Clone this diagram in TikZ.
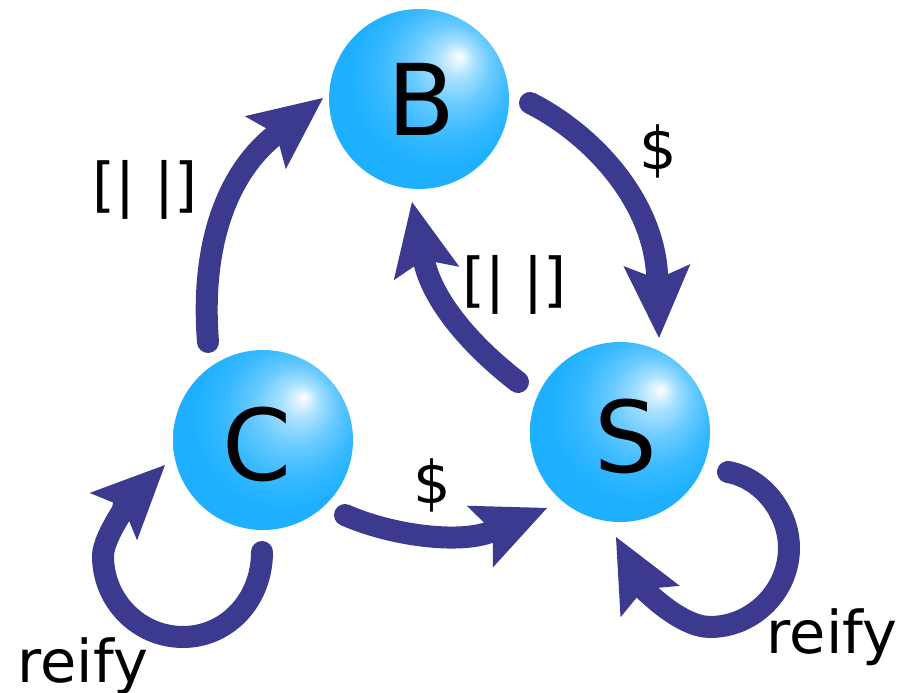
\documentclass[tikz,border=0pt]{standalone}
\usepackage{fontspec}
\setmainfont{DejaVu Sans}
\usetikzlibrary{arrows.meta}
\definecolor{arrowblue}{RGB}{59,58,143}
\definecolor{sphB}{RGB}{30,176,255}
\pgfdeclareradialshading{sphereshade}{\pgfpoint{11.4bp}{12bp}}{color(0bp)=(white); color(1.5bp)=(sphB!12!white); color(5bp)=(sphB!38!white); color(11bp)=(sphB!66!white); color(18bp)=(sphB!88!white); color(25bp)=(sphB); color(50bp)=(sphB)}
\begin{document}
\begin{tikzpicture}[x=1pt,y=-1pt,
  ball/.style={circle, minimum size=180pt, inner sep=0pt, shading=sphereshade, font=\fontsize{99}{99}\selectfont},
  flow/.style={draw=arrowblue, line width=22pt, line cap=round, -{Stealth[length=73pt,width=67pt,inset=14pt,line width=0pt]}},
  lbl/.style={inner sep=0pt, anchor=base, font=\fontsize{59}{59}\selectfont},
]
\useasboundingbox (0,0) rectangle (914,693);
\node[ball] (B) at (419,99) {\hspace*{4pt}B};
\node[ball] (C) at (263,440) {\rule{0pt}{81.5pt}\hspace*{-12pt}C};
\node[ball] (S) at (620,432) {\rule{0pt}{81.5pt}\hspace*{12pt}S};

\coordinate (cb1) at (208,342); \coordinate (cb2) at (323,98);
\coordinate (bs1) at (530,103); \coordinate (bs2) at (659,338);
\coordinate (sb1) at (518,382); \coordinate (sb2) at (412,202);
\coordinate (cs1) at (345,515); \coordinate (cs2) at (547,508);
\coordinate (cc1) at (262,552); \coordinate (cc2) at (165,465);
\coordinate (ss1) at (728,472); \coordinate (ss2) at (616,537);

\draw[flow] (cb1) .. controls (200,240) and (230,170) .. (cb2);
\draw[flow] (bs1) .. controls (590,133) and (655,200) .. (bs2);
\draw[flow] (sb1) .. controls (470,345) and (432,300) .. (sb2);
\draw[flow] (cs1) .. controls (390,535) and (460,545) .. (cs2);
\draw[flow] (cc1) .. controls (262,600) and (227,637) .. (183,637)
  .. controls (139,637) and (103,601) .. (103,556)
  .. controls (103,535) and (135,495) .. (cc2);
\draw[flow] (ss1) .. controls (762,478) and (789,512) .. (789,548)
  .. controls (789,591) and (753,627) .. (710,627)
  .. controls (680,627) and (643,588) .. (ss2);

\node[lbl] (l1) at (145,205.5) {[| |]};
\node[lbl] (l2) at (514.5,300.5) {[| |]};
\node[lbl] (d1) at (658,169) {\$};
\node[lbl] (d2) at (432,503) {\$};
\node[lbl, anchor=base west] (r1) at (17.5,682) {reify};
\node[lbl, anchor=base west] (r2) at (766.5,653) {reify};
\end{tikzpicture}
\end{document}
